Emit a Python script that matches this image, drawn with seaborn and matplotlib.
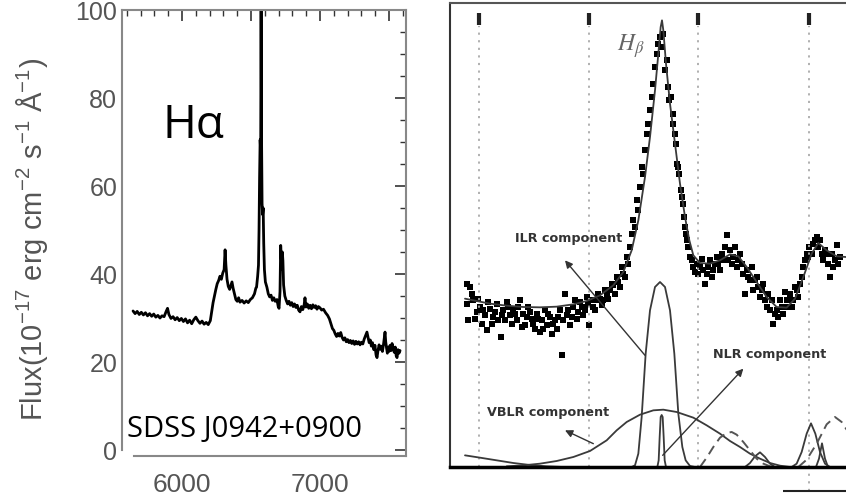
"""
Two-panel spectrum figure: SDSS J0942+0900 around H-alpha (left)
and an H-beta profile decomposition into NLR / ILR / VBLR parts (right).
"""
import matplotlib.pyplot as plt
import matplotlib.ticker as mticker
import seaborn as sns

# ---- left panel: observed spectrum (wavelength in A, flux in 1e-17 cgs) ----
wave = [5645, 5660, 5675, 5690, 5705, 5720, 5735, 5750, 5765, 5780, 5795, 5810,
        5825, 5840, 5855, 5870, 5885, 5895, 5905, 5920, 5935, 5950, 5965, 5980,
        5995, 6010, 6025, 6040, 6055, 6070, 6085, 6100, 6115, 6130, 6145, 6160,
        6175, 6190, 6205, 6215, 6225, 6235, 6245, 6255, 6265, 6275, 6285, 6295,
        6305, 6312, 6318, 6326, 6335, 6345, 6355, 6362, 6370, 6380, 6390, 6400,
        6410, 6420, 6435, 6450, 6465, 6480, 6495, 6510, 6525, 6535, 6540, 6548,
        6554, 6558, 6562, 6566, 6570, 6573, 6576, 6580, 6584, 6588, 6592, 6597,
        6604, 6615, 6625, 6635, 6645, 6655, 6665, 6675, 6688, 6697, 6703, 6710,
        6715, 6719, 6723, 6727, 6731, 6736, 6745, 6755, 6765, 6775, 6785, 6795,
        6805, 6815, 6825, 6835, 6845, 6855, 6865, 6875, 6885, 6891, 6898, 6908,
        6918, 6928, 6938, 6948, 6958, 6968, 6978, 6988, 7000, 7012, 7025, 7040,
        7055, 7068, 7080, 7090, 7100, 7110, 7120, 7130, 7140, 7150, 7160, 7170,
        7180, 7190, 7200, 7210, 7220, 7230, 7240, 7250, 7260, 7270, 7280, 7290,
        7300, 7310, 7320, 7330, 7340, 7348, 7356, 7364, 7372, 7380, 7390, 7398,
        7406, 7413, 7420, 7428, 7436, 7444, 7452, 7460, 7466, 7471, 7476, 7482,
        7488, 7494, 7500, 7508, 7515, 7522, 7530, 7538, 7545, 7552, 7558, 7565,
        7572, 7580]
flux = [31.6, 31.0, 31.5, 30.8, 31.3, 30.7, 31.2, 30.5, 31.0, 30.4, 30.9, 30.2,
        30.6, 30.0, 30.5, 30.3, 31.5, 32.2, 30.8, 29.9, 30.3, 29.6, 30.1, 29.4,
        29.9, 29.2, 29.8, 28.9, 29.5, 28.7, 29.6, 30.2, 29.4, 28.8, 29.3, 28.6,
        29.0, 28.5, 29.4, 31.5, 33.5, 35.0, 36.5, 37.8, 38.5, 39.5, 38.8, 40.2,
        41.0, 45.5, 42.0, 38.8, 37.2, 36.5, 37.5, 38.2, 36.8, 35.5, 34.2, 33.8,
        34.6, 33.6, 34.0, 33.4, 33.9, 33.5, 34.2, 34.6, 35.5, 36.8, 37.0, 39.5,
        42.0, 50.0, 62.0, 70.5, 68.0, 101.0, 72.0, 56.0, 53.5, 55.0, 47.0, 41.0,
        38.2, 37.0, 35.5, 34.8, 35.2, 34.0, 34.6, 33.8, 34.2, 32.6, 32.2, 36.0,
        46.5, 44.0, 41.0, 45.0, 43.0, 37.5, 35.0, 34.0, 33.2, 33.8, 32.9, 33.5,
        32.6, 33.2, 32.4, 32.9, 31.8, 31.4, 32.6, 31.9, 33.0, 34.6, 32.5, 33.2,
        32.2, 32.9, 32.1, 33.0, 32.4, 32.8, 32.0, 32.6, 32.3, 31.8, 32.0, 31.2,
        30.6, 29.8, 28.6, 27.6, 27.2, 26.4, 25.8, 26.5, 25.9, 26.7, 25.6, 25.0,
        25.5, 24.6, 25.1, 24.4, 24.9, 24.2, 24.8, 24.0, 24.7, 24.1, 24.6, 23.9,
        24.5, 24.1, 25.2, 26.0, 26.8, 25.6, 24.4, 25.0, 23.6, 24.4, 22.8, 23.8,
        21.6, 21.0, 22.6, 23.9, 22.9, 23.6, 22.4, 24.0, 25.6, 26.8, 24.6, 23.2,
        22.0, 23.4, 22.4, 23.8, 22.6, 24.2, 23.0, 22.2, 23.4, 21.4, 21.0, 22.8,
        22.0, 22.6]

# ---- right panel: H-beta region, arbitrary channel / flux units ----
obs_chan = [80, 90, 80, 85, 100, 110, 120, 125, 135, 140, 150, 160, 170, 175, 183,
            190, 200, 210, 220, 230, 240, 250, 255, 265, 275, 285, 290, 300, 305,
            315, 320, 330, 335, 345, 350, 360, 365, 375, 380, 390, 400, 410, 420,
            430, 440, 448, 455, 465, 475, 485, 495, 505, 515, 525, 530, 540, 545,
            555, 560, 570, 575, 580, 590, 600, 605, 615, 620, 630, 635, 640, 645,
            650, 655, 660, 665, 670, 675, 680, 683, 688, 693, 698, 705, 708, 712,
            718, 722, 728, 732, 738, 745, 750, 755, 760, 770, 775, 785, 790, 795,
            805, 810, 815, 825, 830, 840, 845, 855, 860, 865, 870, 880, 885, 890,
            900, 905, 910, 915, 920, 930, 935, 940, 950, 955, 960, 970, 975, 985,
            990, 995, 1000, 1005, 1015, 1020, 1030, 1035, 1045, 1050, 1060, 1065,
            1075, 1085, 1090, 1095, 1100, 1108, 1115, 1120, 1130, 1135, 1140, 1145,
            1150, 1160, 1165, 1170, 1175, 1185, 1190, 1195, 1200,
            95, 105, 115, 130, 145, 155, 165, 185, 195, 205, 215, 225, 235, 245,
            260, 270, 280, 295, 310, 325, 340, 355, 370, 385, 395, 405, 415, 425,
            435, 445, 460, 470, 480, 490, 500, 510, 520, 535, 550, 565, 585, 595,
            610, 625, 700, 715, 725, 735, 742, 765, 780, 800, 820, 835, 850, 875,
            895, 925, 945, 965, 980, 1010, 1025, 1040, 1055, 1070, 1080, 1105,
            1125, 1155, 1180]
obs_flux = [550, 540, 490, 440, 500, 465, 480, 430, 455, 410, 475, 450, 490, 440, 390,
            470, 495, 455, 475, 440, 500, 460, 425, 480, 445, 415, 460, 405, 440,
            470, 425, 450, 400, 440, 415, 470, 335, 520, 455, 425, 480, 445, 495,
            455, 510, 425, 500, 470, 520, 485, 530, 505, 550, 520, 570, 540, 600,
            570, 630, 660, 700, 740, 800, 840, 900, 950, 1000, 1070, 1110, 1150, 1200,
            1240, 1270, 1290, 1260, 1300, 1190, 1220, 1140, 1100, 1110, 1060, 1000, 970, 910,
            880, 830, 790, 750, 700, 660, 630, 620, 600, 610, 580, 625, 590, 550,
            600, 620, 570, 610, 630, 590, 640, 660, 695, 620, 650, 630, 660, 600,
            640, 610, 580, 520, 590, 560, 600, 530, 570, 540, 510, 550, 500, 520,
            470, 500, 430, 460, 450, 500, 460, 525, 480, 520, 500, 540,
            510, 570, 600, 620, 640, 660, 640, 670, 690, 660, 680, 640,
            620, 640, 610, 570, 640, 620, 665, 610, 630,
            520, 445, 505, 470, 495, 430, 465, 455, 440, 480, 430, 460, 480, 420,
            450, 465, 430, 445, 415, 460, 430, 450, 440, 470, 450, 500, 465, 480,
            470, 490, 480, 500, 505, 500, 520, 530, 545, 555, 580, 610, 720, 770,
            880, 1030, 1030, 900, 810, 720, 680, 585, 600, 580, 590, 610, 620, 610,
            620, 570, 560, 530, 480, 470, 480, 500, 480, 530, 550, 630,
            680, 650, 600]

fit_chan = [75, 100, 150, 200, 250, 300, 350, 400, 440, 480, 520, 550, 575, 595,
            615, 630, 645, 655, 662, 666, 670, 678, 690, 705, 720, 735, 748, 760,
            780, 810, 840, 870, 895, 920, 950, 980, 1010, 1040, 1065, 1090, 1115,
            1135, 1160, 1190, 1218]
fit_flux = [505, 500, 490, 484, 480, 479, 481, 488, 498, 515, 545, 585, 650, 740,
            870, 990, 1130, 1240, 1320, 1340, 1310, 1210, 1090, 970, 850, 750, 680, 635,
            612, 610, 620, 638, 632, 600, 555, 510, 480, 478, 505, 570, 640,
            672, 650, 632, 630]

ilr_chan = [575, 585, 595, 605, 617, 630, 645, 660, 675, 690, 703, 715, 727, 737, 750, 765]
ilr_flux = [0, 5, 40, 150, 340, 470, 540, 555, 540, 470, 340, 160, 60, 20, 3, 0]

vblr_chan = [200, 250, 300, 350, 400, 450, 500, 530, 560, 600, 640, 670, 710, 760,
             800, 840, 870, 900, 930, 960, 990, 1020, 1050]
vblr_flux = [2, 5, 10, 18, 30, 48, 80, 110, 135, 157, 170, 172, 165, 148,
             125, 100, 78, 60, 40, 25, 12, 4, 0]

wing_chan = [75, 120, 170, 220, 270, 320, 370]
wing_flux = [35, 28, 20, 12, 6, 2, 0]

nlr_chan = [652, 656, 659, 662, 665, 668, 671, 674, 678]
nlr_flux = [0, 20, 90, 150, 156, 150, 90, 20, 0]

bump_chan = [915, 930, 945, 960, 975, 990, 1005]
bump_flux = [0, 12, 32, 44, 30, 10, 0]

red_chan = [1055, 1070, 1085, 1100, 1113, 1126, 1140, 1155, 1170]
red_flux = [0, 10, 45, 100, 131, 100, 45, 10, 0]

narrow_chan = [1128, 1137, 1146, 1155, 1164]
narrow_flux = [0, 25, 71, 25, 0]

fe1_chan = [780, 800, 820, 840, 860, 875, 890, 910, 930, 950, 970, 990, 1010]
fe1_flux = [0, 28, 60, 88, 102, 105, 97, 75, 50, 25, 10, 2, 0]

fe2_chan = [1075, 1100, 1130, 1160, 1185, 1205, 1220]
fe2_flux = [0, 22, 70, 128, 150, 135, 112]

line_marks = [118, 447, 775, 1107]

sns.set_theme(style="white")
plt.rcParams["font.family"] = ["Liberation Sans", "DejaVu Sans"]
plt.rcParams["mathtext.fontset"] = "custom"
plt.rcParams["mathtext.rm"] = "Liberation Sans"
plt.rcParams["mathtext.it"] = "Liberation Sans:italic"

fig = plt.figure(figsize=(8.46, 4.99), dpi=100)

# ---------------- left panel ----------------
ax1 = fig.add_axes([122 / 846, 43 / 499, 284 / 846, 446 / 499])
sns.lineplot(x=wave, y=flux, ax=ax1, color="black", lw=2.0, estimator=None)
ax1.set_xlim(5565, 7623)
ax1.set_ylim(-1.36, 100)
ax1.xaxis.set_major_locator(mticker.MultipleLocator(500))
ax1.xaxis.set_minor_locator(mticker.MultipleLocator(100))
ax1.xaxis.set_major_formatter(
    mticker.FuncFormatter(lambda v, p: f"{v:.0f}" if v % 1000 == 0 else ""))
ax1.yaxis.set_major_locator(mticker.MultipleLocator(20))
ax1.yaxis.set_minor_locator(mticker.MultipleLocator(5))
ax1.tick_params(which="both", direction="in", top=True, right=True,
                color="#333333", labelcolor="#555555", labelsize=18)
ax1.tick_params(axis="x", labelsize=19, pad=12)
ax1.tick_params(which="major", length=8, width=1.2)
ax1.tick_params(which="minor", length=4.5, width=1.0)
for sp in ax1.spines.values():
    sp.set_color("#888888")
    sp.set_linewidth(1.5)
ax1.spines["left"].set_bounds(0, 100)
ax1.spines["bottom"].set_bounds(5650, 7623)
ax1.set_ylabel(r"Flux(10$^{-17}$ erg cm$^{-2}$ s$^{-1}$ Å$^{-1}$)",
               fontsize=21, color="#555555")
ax1.yaxis.set_label_coords(-0.255, 0.485)
ax1.text(5855, 71, "Hα", fontsize=33, family="Open Sans", color="black")
ax1.text(5600, 3, "SDSS J0942+0900", fontsize=21, family="Open Sans",
         color="black", va="baseline")

# ---------------- right panel ----------------
ax2 = fig.add_axes([450 / 846, 32 / 499, 396 / 846, 464 / 499])
ax2.set_xlim(30, 1218)
ax2.set_ylim(0, 1392)
ax2.vlines(line_marks, 0, 1322, colors="#aaaaaa", linestyles=(0, (1.2, 3)), lw=1.3)
ax2.vlines(line_marks, 1326, 1362, colors="#222222", lw=3)
ax2.vlines(line_marks[-1], -73, 0, colors="#aaaaaa", linestyles=(0, (1.2, 3)),
           lw=1.3, clip_on=False)
ax2.hlines(-73, 1029, 1218, colors="#222222", lw=1.5, clip_on=False)

sns.scatterplot(x=obs_chan, y=obs_flux, ax=ax2, marker="s", s=19,
                color="black", edgecolor="none")

comp_color = "#3a3a3a"
solid_parts = [(fit_chan, fit_flux), (ilr_chan, ilr_flux), (vblr_chan, vblr_flux),
               (wing_chan, wing_flux), (nlr_chan, nlr_flux), (bump_chan, bump_flux),
               (red_chan, red_flux), (narrow_chan, narrow_flux)]
for cx, cy in solid_parts:
    sns.lineplot(x=cx, y=cy, ax=ax2, color=comp_color, lw=1.3,
                 estimator=None, sort=False)
for cx, cy in [(fe1_chan, fe1_flux), (fe2_chan, fe2_flux)]:
    sns.lineplot(x=cx, y=cy, ax=ax2, color="#555555", lw=1.4,
                 linestyle=(0, (5, 3)), estimator=None, sort=False)

ax2.set_xticks([])
ax2.set_yticks([])
ax2.spines["right"].set_visible(False)
ax2.spines["top"].set_color("#555555")
ax2.spines["top"].set_linewidth(1.5)
ax2.spines["left"].set_color("#333333")
ax2.spines["left"].set_linewidth(1.5)
ax2.spines["bottom"].set_color("black")
ax2.spines["bottom"].set_linewidth(2.5)

ax2.text(530, 1250, r"$H_\beta$", fontsize=17, color="#666666",
         math_fontfamily="stix")

lbl = dict(fontsize=9.2, fontweight="bold", color="#333333", ha="center", va="center",
           family="DejaVu Sans")
ax2.text(385, 685, "ILR component", **lbl)
ax2.text(990, 338, "NLR component", **lbl)
ax2.text(325, 163, "VBLR component", **lbl)

arrow = dict(arrowstyle="-|>", color="#333333", lw=1.0, mutation_scale=11,
             shrinkA=0, shrinkB=0)
ax2.annotate("", xy=(375, 620), xytext=(615, 335), arrowprops=arrow)
ax2.annotate("", xy=(910, 295), xytext=(668, 35), arrowprops=arrow)
ax2.annotate("", xy=(375, 110), xytext=(460, 70), arrowprops=arrow)

fig.savefig("out.png", dpi=100)
